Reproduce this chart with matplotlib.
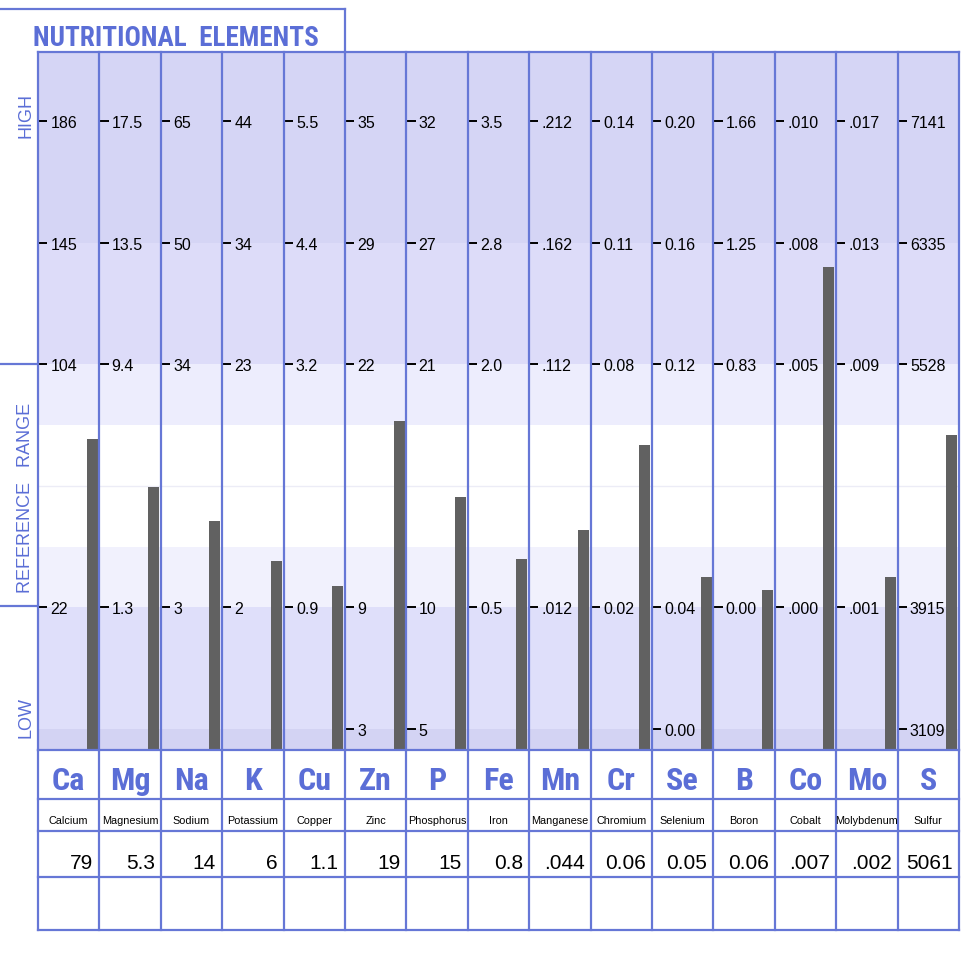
import numpy as np
import matplotlib.pyplot as plt
from matplotlib.lines import Line2D

# Elements
symbols = ["Ca", "Mg", "Na", "K", "Cu", "Zn", "P", "Fe", "Mn", "Cr", "Se", "B", "Co", "Mo", "S"]
names = ["Calcium", "Magnesium", "Sodium", "Potassium", "Copper", "Zinc", "Phosphorus", "Iron",
         "Manganese", "Chromium", "Selenium", "Boron", "Cobalt", "Molybdenum", "Sulfur"]

# Reference scale per element (rows: high, upper, ref-top, ref-bottom, low)
scale_high = ["186", "17.5", "65", "44", "5.5", "35", "32", "3.5", ".212", "0.14", "0.20", "1.66", ".010", ".017", "7141"]
scale_upper = ["145", "13.5", "50", "34", "4.4", "29", "27", "2.8", ".162", "0.11", "0.16", "1.25", ".008", ".013", "6335"]
scale_ref_top = ["104", "9.4", "34", "23", "3.2", "22", "21", "2.0", ".112", "0.08", "0.12", "0.83", ".005", ".009", "5528"]
scale_ref_bot = ["22", "1.3", "3", "2", "0.9", "9", "10", "0.5", ".012", "0.02", "0.04", "0.00", ".000", ".001", "3915"]
scale_low = ["", "", "", "", "", "3", "5", "", "", "", "0.00", "", "", "", "3109"]

# Measured results
result_labels = ["79", "5.3", "14", "6", "1.1", "19", "15", "0.8", ".044", "0.06", "0.05", "0.06", ".007", ".002", "5061"]
results = [79, 5.3, 14, 6, 1.1, 19, 15, 0.8, 0.044, 0.06, 0.05, 0.06, 0.0074, 0.002, 5061]

BLUE = "#5b6ed6"
LINE = "#6677d6"
BAR = "#616161"
LW = 1.6
NARROW = ['Roboto Condensed', 'PT Sans Narrow', 'Liberation Sans']

plt.rcParams['font.family'] = ['Liberation Sans', 'DejaVu Sans']

fig = plt.figure(figsize=(9.8, 9.54), dpi=100)


def fx(px):
    return px / 980


def fy(py):
    return 1 - py / 954


# ----------- chart area -----------
ax = fig.add_axes([fx(38), fy(751), (959 - 38) / 980, (751 - 53) / 954])
ax.set_xlim(0, 15)
ax.set_ylim(-0.173, 5.572)
ax.axis('off')

# background bands
bands = [(4, 5.572, "#d5d5f5"), (3, 4, "#dddcf9"), (2.5, 3, "#ededfd"), (1.5, 2.5, "#ffffff"),
         (1, 1.5, "#f1f1fd"), (0, 1, "#dfdffa"), (-0.173, 0, "#d3d3f3")]
for lo, hi, c in bands:
    ax.axhspan(lo, hi, color=c, lw=0, zorder=0)
ax.axhline(2, color="#ececf6", lw=1, zorder=0.5)

row_levels = [5, 4, 3, 1, 0]
for i in range(15):
    col = [scale_high[i], scale_upper[i], scale_ref_top[i], scale_ref_bot[i], scale_low[i]]
    labels = [s for s in col if s]
    lv = [l for l, s in zip(row_levels, col) if s]
    vals = [float(s) for s in labels]
    for l, s in zip(lv, labels):
        ax.plot([i + 0.01, i + 0.15], [l, l], color="black", lw=1.4, zorder=3, solid_capstyle='butt')
        ax.text(i + 0.2, l - 0.012, s, fontsize=11.5, va='center', ha='left', color="black", zorder=3)
    level = np.interp(results[i], vals[::-1], lv[::-1])
    ax.bar(i + 0.79, level + 0.173, bottom=-0.173, width=0.18, align='edge', color=BAR, zorder=2)

for i in range(16):
    ax.axvline(i, color=LINE, lw=LW, zorder=4, clip_on=False)
ax.axhline(5.572, color=LINE, lw=LW, zorder=4, clip_on=False)

# ----------- table below -----------
tab = fig.add_axes([fx(38), fy(931), (959 - 38) / 980, (931 - 751) / 954])
tab.set_xlim(0, 15)
tab.set_ylim(931, 751)
tab.axis('off')
for y in [751, 800, 832, 878, 931]:
    tab.axhline(y, color=LINE, lw=LW, clip_on=False)
for i in range(16):
    tab.axvline(i, color=LINE, lw=LW, clip_on=False)
for i in range(15):
    tab.text(i + 0.5, 781, symbols[i], fontsize=23, fontweight='bold', color=BLUE,
             ha='center', va='center', family=NARROW)
    tab.text(i + 0.5, 821, names[i], fontsize=7.8, color="black", ha='center', va='center')
    tab.text(i + 0.9, 864, result_labels[i], fontsize=15, color="black", ha='right', va='center')

# ----------- title and side labels -----------
fig.text(fx(33), fy(46), "NUTRITIONAL  ELEMENTS", fontsize=19.5, fontweight='bold', color=BLUE,
         ha='left', va='baseline', family=NARROW)
fig.add_artist(Line2D([0, fx(345)], [fy(10), fy(10)], color=LINE, lw=LW))
fig.add_artist(Line2D([fx(345), fx(345)], [fy(10), fy(53)], color=LINE, lw=LW))
fig.add_artist(Line2D([0, fx(38)], [fy(365), fy(365)], color=LINE, lw=LW))
fig.add_artist(Line2D([0, fx(38)], [fy(607), fy(607)], color=LINE, lw=LW))

fig.text(fx(26), fy(116), "HIGH", rotation=90, fontsize=13, color=BLUE, ha='center', va='center')
fig.text(fx(26), fy(498), "REFERENCE   RANGE", rotation=90, fontsize=13, color=BLUE, ha='center', va='center')
fig.text(fx(26), fy(717), "LOW", rotation=90, fontsize=13, color=BLUE, ha='center', va='center')

fig.savefig("out.png", dpi=100)
